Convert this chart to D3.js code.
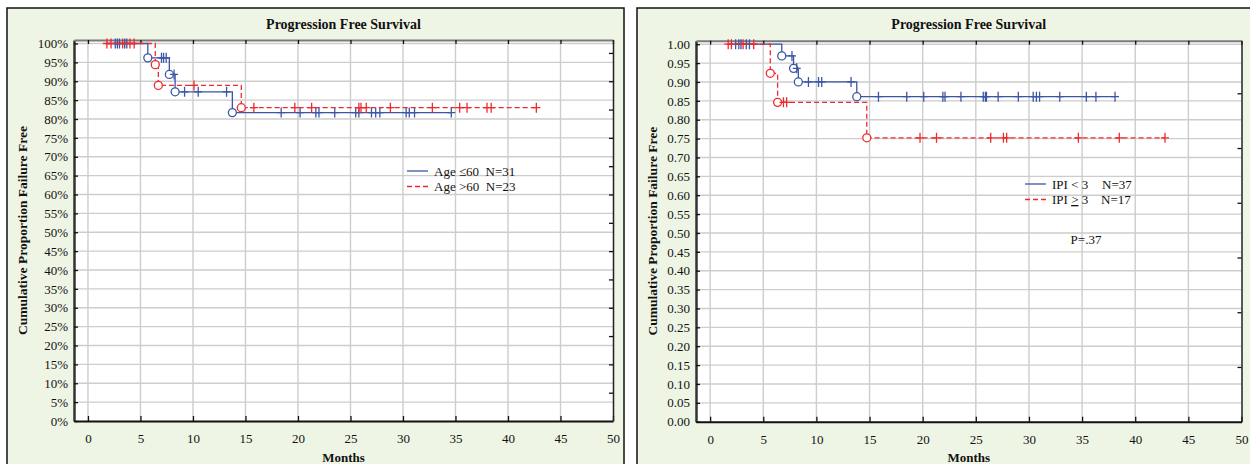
<!DOCTYPE html>
<html>
<head>
<meta charset="utf-8">
<script src="https://cdn.jsdelivr.net/npm/d3@7"></script>
<style>
  body { margin: 0; background: #fff; }
  svg text { font-family: "Liberation Serif", "Times New Roman", serif; fill: #111; white-space: pre; }
</style>
</head>
<body>
<div id="chart"></div>
<script>
// ---- data ----
var xTicks = [0, 5, 10, 15, 20, 25, 30, 35, 40, 45, 50];
var yTicks = [0, .05, .1, .15, .2, .25, .3, .35, .4, .45, .5, .55, .6, .65, .7, .75, .8, .85, .9, .95, 1];

// left panel: age
var ageLeEventT = [5.7, 7.75, 8.3, 13.75];
var ageLeEventS = [0.962, 0.918, 0.872, 0.817];
var ageLeCensorT = [2.6, 2.8, 3.0, 3.5, 3.7, 7.0, 7.2, 7.45, 8.2, 9.2, 10.5, 13.2,
  18.4, 20.2, 21.7, 22.0, 23.5, 25.5, 25.8, 27.0, 27.4, 27.8, 30.3, 30.6, 31.1, 34.6];
var ageGtEventT = [6.41, 6.7, 14.6];
var ageGtEventS = [0.944, 0.889, 0.830];
var ageGtCensorT = [1.8, 2.2, 3.3, 4.0, 4.4, 10.1, 15.8, 19.7, 21.3, 25.8, 26.0, 26.5,
  28.8, 32.8, 35.4, 36.1, 38.0, 38.4, 42.7];

// right panel: IPI
var ipiLowEventT = [6.74, 7.85, 8.3, 13.8];
var ipiLowEventS = [0.969, 0.936, 0.900, 0.861];
var ipiLowCensorT = [2.4, 2.7, 2.9, 3.4, 3.7, 7.7, 8.15, 9.25, 10.2, 10.5, 13.26,
  15.84, 18.5, 20.1, 21.9, 22.1, 23.6, 25.7, 25.9, 26.0, 27.1, 29.0, 30.4, 30.7, 31.0,
  32.9, 35.4, 36.3, 38.1];
var ipiHighEventT = [5.66, 6.35, 14.74];
var ipiHighEventS = [0.923, 0.846, 0.752];
var ipiHighCensorT = [1.7, 2.0, 3.1, 4.1, 6.9, 7.2, 19.75, 21.3, 26.4, 27.6, 27.9,
  34.65, 38.5, 42.8];

var blue = "#3b56a6", red = "#ee2a2f";

var svg = d3.select("#chart").append("svg")
  .attr("width", 1250)
  .attr("height", 464);

function survAt(t, evT, evS) {
  var s = 1;
  for (var i = 0; i < evT.length; i++) { if (evT[i] <= t) s = evS[i]; }
  return s;
}

function drawPanel(p) {
  var g = svg.append("g");

  // panel frame
  g.append("rect")
    .attr("x", p.box[0]).attr("y", 8)
    .attr("width", p.box[1]).attr("height", 480)
    .attr("fill", "#eff5e5")
    .attr("stroke", "#111")
    .attr("stroke-width", 1.5);

  var x = d3.scaleLinear().domain([-1.33, 50]).range(p.xr);
  var y = d3.scaleLinear().domain([0, 1.0093]).range(p.yr);

  g.append("rect")
    .attr("x", p.xr[0]).attr("y", p.yr[1])
    .attr("width", p.xr[1] - p.xr[0]).attr("height", p.yr[0] - p.yr[1])
    .attr("fill", "#fff");

  // grid
  g.append("g").selectAll("line").data(xTicks.slice(0, -1)).enter().append("line")
    .attr("x1", d => x(d)).attr("x2", d => x(d))
    .attr("y1", p.yr[1]).attr("y2", p.yr[0])
    .attr("stroke", "#cdcdcd").attr("stroke-width", 1.4);
  g.append("g").selectAll("line").data(yTicks.slice(1)).enter().append("line")
    .attr("x1", p.xr[0]).attr("x2", p.xr[1])
    .attr("y1", d => y(d)).attr("y2", d => y(d))
    .attr("stroke", "#cdcdcd").attr("stroke-width", 1.4);

  // axes (inward ticks)
  var ax = g.append("g")
    .attr("transform", "translate(0," + p.yr[0] + ")")
    .call(d3.axisBottom(x).tickValues(xTicks).tickSize(-5).tickPadding(13).tickSizeOuter(0));
  ax.select(".domain").attr("stroke", "#111").attr("stroke-width", 2);

  var ay = g.append("g")
    .attr("transform", "translate(" + p.xr[0] + ",0)")
    .call(d3.axisLeft(y).tickValues(yTicks).tickFormat(p.fmt).tickSize(-4).tickPadding(6).tickSizeOuter(0));
  ay.select(".domain").attr("stroke", "#333").attr("stroke-width", 2.5);

  g.append("g")
    .attr("transform", "translate(0," + p.yr[1] + ")")
    .call(d3.axisTop(x).tickValues(xTicks).tickSize(-4).tickFormat("").tickSizeOuter(0))
    .select(".domain").attr("stroke", "#7a7a7a").attr("stroke-width", 2);

  g.append("g")
    .attr("transform", "translate(" + p.xr[1] + ",0)")
    .call(d3.axisRight(y).tickValues(p.rightTicks).tickSize(-4).tickFormat("").tickSizeOuter(0))
    .select(".domain").attr("stroke", "#222").attr("stroke-width", 1.5);

  g.selectAll(".tick text")
    .style("font-size", "13px")
    .style("font-family", "'Liberation Serif', 'Times New Roman', serif")
    .attr("fill", "#111");
  g.selectAll(".tick line").attr("stroke", "#111").attr("stroke-width", 1.3);

  // titles
  var cx = (p.xr[0] + p.xr[1]) / 2;
  g.append("text")
    .attr("x", cx).attr("y", 29)
    .attr("text-anchor", "middle")
    .style("font-size", "14px").style("font-weight", "bold")
    .text("Progression Free Survival");
  g.append("text")
    .attr("x", cx).attr("y", 461.5)
    .attr("text-anchor", "middle")
    .style("font-size", "13px").style("font-weight", "bold")
    .text("Months");
  g.append("text")
    .attr("transform", "translate(" + (p.box[0] + 20) + "," + ((p.yr[0] + p.yr[1]) / 2) + ")rotate(-90)")
    .attr("text-anchor", "middle")
    .style("font-size", "13.5px").style("font-weight", "bold")
    .text("Cumulative Proportion Failure Free");

  // curves
  var line = d3.line().x(d => x(d[0])).y(d => y(d[1])).curve(d3.curveStepAfter);
  p.series.forEach(function (s) {
    var start = d3.min(s.cens);
    var end = d3.max(s.cens.concat(s.evT));
    var pts = [[start, 1]];
    s.evT.forEach(function (t, i) { pts.push([t, s.evS[i]]); });
    pts.push([end, s.evS[s.evS.length - 1]]);

    var sg = g.append("g");
    sg.append("path")
      .attr("d", line(pts))
      .attr("fill", "none")
      .attr("stroke", s.color)
      .attr("stroke-width", 1.3)
      .attr("stroke-dasharray", s.dash ? "5,3" : null);

    sg.selectAll("circle").data(s.evT).enter().append("circle")
      .attr("cx", d => x(d))
      .attr("cy", (d, i) => y(s.evS[i]))
      .attr("r", 4)
      .attr("fill", "#fff")
      .attr("stroke", s.color)
      .attr("stroke-width", 1.3);

    sg.selectAll("path.cens").data(s.cens).enter().append("path")
      .attr("class", "cens")
      .attr("d", function (d) {
        var cxp = x(d), cyp = y(survAt(d, s.evT, s.evS));
        return "M" + (cxp - 4) + "," + cyp + "H" + (cxp + 4) +
               "M" + cxp + "," + (cyp - 5) + "V" + (cyp + 5);
      })
      .attr("stroke", s.color)
      .attr("stroke-width", 1.3);
  });

  // legend
  var lg = g.append("g").attr("transform", "translate(" + p.legend[0] + "," + p.legend[1] + ")");
  p.legendRows.forEach(function (r, i) {
    lg.append("line")
      .attr("x1", 0).attr("x2", 21)
      .attr("y1", i * 15.5).attr("y2", i * 15.5)
      .attr("stroke", r.color).attr("stroke-width", 1.3)
      .attr("stroke-dasharray", r.dash ? "5,3" : null);
    var t = lg.append("text")
      .attr("x", 27).attr("y", i * 15.5 + 4.5)
      .style("font-size", "13px");
    r.parts.forEach(function (pt) {
      var ts = t.append("tspan").text(pt.text);
      if (pt.under) ts.style("text-decoration", "underline");
      if (pt.x != null) ts.attr("x", pt.x);
    });
  });
  if (p.pval) {
    g.append("text")
      .attr("x", p.pval[0]).attr("y", p.pval[1])
      .attr("text-anchor", "middle")
      .style("font-size", "13px")
      .text("P=.37");
  }
}

drawPanel({
  box: [7, 617],
  xr: [74, 613],
  yr: [421, 40],
  fmt: d3.format(".0%"),
  rightTicks: d3.range(1, 14).map(k => k * 0.075),
  series: [
    { evT: ageLeEventT, evS: ageLeEventS, cens: ageLeCensorT, color: blue, dash: false },
    { evT: ageGtEventT, evS: ageGtEventS, cens: ageGtCensorT, color: red, dash: true }
  ],
  legend: [407, 171],
  legendRows: [
    { color: blue, dash: false, parts: [{ text: "Age ≤60  N=31" }] },
    { color: red, dash: true, parts: [{ text: "Age >60  N=23" }] }
  ]
});

drawPanel({
  box: [637, 630],
  xr: [696, 1241.5],
  yr: [421.7, 40.7],
  fmt: d3.format(".2f"),
  rightTicks: d3.range(1, 7).map(k => k * 0.145),
  series: [
    { evT: ipiLowEventT, evS: ipiLowEventS, cens: ipiLowCensorT, color: blue, dash: false },
    { evT: ipiHighEventT, evS: ipiHighEventS, cens: ipiHighCensorT, color: red, dash: true }
  ],
  legend: [1025, 184],
  legendRows: [
    { color: blue, dash: false, parts: [{ text: "IPI < 3" }, { text: "N=37", x: 77 }] },
    { color: red, dash: true, parts: [{ text: "IPI " }, { text: ">", under: true }, { text: " 3" }, { text: "N=17", x: 76 }] }
  ],
  pval: [1086, 244]
});
</script>
</body>
</html>
